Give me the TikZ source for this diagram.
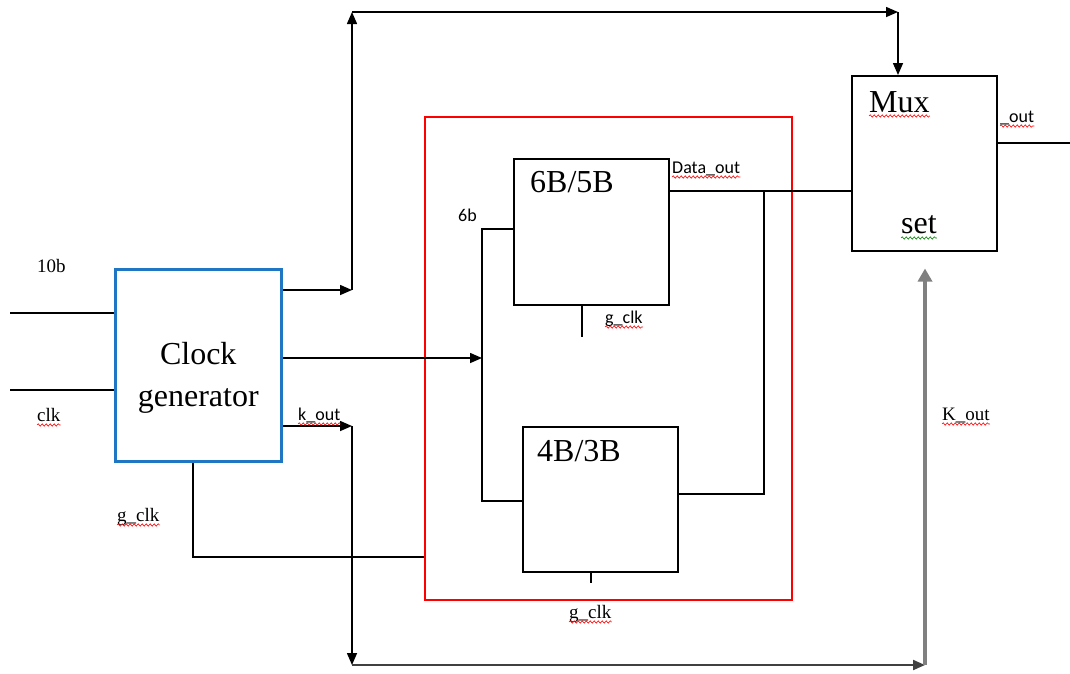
\documentclass[tikz,border=0pt]{standalone}
\usepackage{fontspec}
\setmainfont{Liberation Serif}
\newfontfamily\calibri{Carlito}
\usepackage{xcolor}
\usetikzlibrary{positioning}
\usetikzlibrary{arrows.meta,decorations.pathmorphing}
\definecolor{boxblue}{RGB}{31,119,196}
\definecolor{kgray}{RGB}{128,128,128}

\begin{document}
\begin{tikzpicture}[
    x=1pt, y=-1pt,
    blk/.style={draw, line width=1.5pt, rectangle, anchor=north west, inner sep=0pt},
    big/.style={font=\fontsize{32}{42}\selectfont, inner sep=0pt},
    lbl/.style={font=\fontsize{19}{22}\selectfont, inner sep=0pt, anchor=base west},
    slbl/.style={font=\calibri\fontsize{18}{22}\selectfont, inner sep=0pt, anchor=base west},
    wire/.style={line width=1.5pt},
    arr/.style={wire, -{Triangle[length=12pt,width=10pt]}},
    squig/.style={red, line width=0.6pt, decorate, decoration={snake, amplitude=1.2pt, segment length=4pt}}
]
\useasboundingbox (0,0) rectangle (1070,673);

% clock generator
\node[blk, draw=boxblue, line width=3.5pt, minimum width=166pt, minimum height=192pt] (clkgen) at (113.5,267.5) {};
\node[big, align=center] at ([yshift=-13pt]clkgen.center) {Clock\\generator};

% encoder block
\node[blk, draw=red, minimum width=367pt, minimum height=483pt] (enc) at (424,116) {};
\node[blk, minimum width=155pt, minimum height=146pt] (sixb) at (513,158) {};
\node[big, anchor=base west] at (530,192) {6B/5B};
\node[blk, minimum width=155pt, minimum height=145pt] (fourb) at (522,426) {};
\node[big, anchor=base west] at (537,461) {4B/3B};

% mux
\node[blk, minimum width=145pt, minimum height=175pt] (mux) at (851,75) {};
\node[big, anchor=base west] (muxt) at (869,112) {Mux};
\node[big, anchor=base west] (sett) at (901,233) {set};

% inputs
\coordinate (in10) at (10,313);
\coordinate (inclk) at (10,390);
\draw[wire] (in10) -- (clkgen.west |- in10);
\draw[wire] (inclk) -- (clkgen.west |- inclk);
\node[lbl] (l10b) at (37,272) {10b};
\node[lbl] (lclk) at (37,421) {clk};

% top route to mux
\coordinate (up1) at (352,290);
\coordinate (up2) at (352,12);
\coordinate (up3) at (898,12);
\draw[arr] (clkgen.east |- up1) -- (up1);
\draw[arr] (up1) -- (up2);
\draw[arr] (up2) -- (up3);
\draw[arr] (up3) -- (mux.north -| up3);

% into the encoder
\coordinate (mid) at (482,358);
\coordinate (bus6) at (482,229);
\coordinate (bus4) at (482,501);
\draw[arr] (clkgen.east |- mid) -- (mid);
\draw[wire] (sixb.west |- bus6) -- (bus6) -- (bus4) -- (fourb.west |- bus4);
\node[slbl] (l6b) at (458,221) {6b};

% data out
\coordinate (dout) at (764,191);
\coordinate (dret) at (764,494);
\draw[wire] (sixb.east |- dout) -- (mux.west |- dout);
\draw[wire] (dout) -- (dret) -- (fourb.east |- dret);
\node[slbl] (ldata) at (672,173) {Data\_out};

% g_clk stubs
\coordinate (g6) at (582,337);
\coordinate (g4) at (591,583);
\draw[wire] (sixb.south -| g6) -- (g6);
\draw[wire] (fourb.south -| g4) -- (g4);
\node[slbl] (lg6) at (605,323) {g\_clk};
\node[lbl] (lg4) at (569,618) {g\_clk};

% g_clk from the generator
\coordinate (gdn) at (193,557);
\draw[wire] (clkgen.south -| gdn) -- (gdn) -- (enc.west |- gdn);
\node[lbl] (lgclk) at (117,521) {g\_clk};

% k_out
\coordinate (k1) at (352,426);
\coordinate (k2) at (352,665);
\coordinate (k3) at (925,665);
\draw[arr] (clkgen.east |- k1) -- (k1);
\draw[arr] (k1) -- (k2);
\draw[arr, draw=black!75, fill=black!75, line width=2pt] (k2) -- (k3);
\draw[line width=3.5pt, kgray, -{Triangle[length=13pt,width=14pt]}, shorten >=17pt] (k3) -- (mux.south -| k3);
\node[slbl] (lk) at (298,420) {k\_out};
\node[lbl] (lK) at (942,420) {K\_out};

% output
\coordinate (mout) at (1070,143);
\draw[wire] (mux.east |- mout) -- (mout);
\node[slbl] (lout) at (1000,122) {\_out};

% spelling marks
\foreach \n in {lclk, lgclk, lk, ldata, lg6, lg4, muxt, lK, lout}
    \draw[squig] ([yshift=-4pt]\n.base west) -- ([yshift=-4pt]\n.base east);
\draw[squig, green!50!black] ([yshift=-5pt]sett.base west) -- ([yshift=-5pt]sett.base east);

\end{tikzpicture}
\end{document}
